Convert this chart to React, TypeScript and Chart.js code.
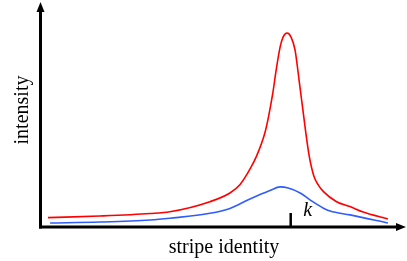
import React, { useEffect, useRef } from "react";
import { Chart, registerables } from "chart.js";

Chart.register(...registerables);

// stripe identity (0..100) and intensity (0..100)
const redStripe = [1.9, 16.2, 30.0, 35.4, 46.4, 51.9, 54.7, 57.4, 59.3, 61.5, 62.5, 63.7, 64.6, 65.7, 66.5, 67.6, 68.7, 69.8, 70.9, 71.6, 72.3, 72.8, 73.7, 75.0, 76.2, 77.6, 81.2, 84.9, 88.5, 95.3];
const redIntensity = [4.2, 4.9, 6.0, 6.8, 11.3, 15.2, 19.0, 25.8, 32.0, 42.0, 49.2, 60.0, 70.0, 80.4, 84.8, 86.6, 84.8, 79.0, 65.6, 56.7, 47.8, 41.5, 31.5, 22.5, 18.7, 15.8, 11.3, 9.1, 6.7, 3.6];

const blueStripe = [2.5, 16.2, 30.0, 35.4, 46.4, 51.9, 57.4, 62.9, 65.7, 67.9, 71.2, 73.9, 77.6, 79.4, 84.9, 95.3];
const blueIntensity = [1.8, 2.2, 3.1, 3.9, 6.1, 8.3, 12.5, 16.3, 17.9, 17.4, 15.2, 12.1, 8.4, 7.1, 5.4, 1.8];

const kStripe = 68.6;
const xTitle = "stripe identity";
const yTitle = "intensity";
const kLabel = "k";

const toPoints = (xs: number[], ys: number[]) => xs.map((x, i) => ({ x, y: ys[i] }));

export default function App() {
  const ref = useRef<HTMLCanvasElement>(null);
  useEffect(() => {
    document.body.style.margin = "0";
    const canvas = ref.current!;
    const decor = {
      id: "decor",
      afterDraw(chart: any) {
        const ctx = chart.ctx as CanvasRenderingContext2D;
        const { left, right, top, bottom } = chart.chartArea;
        const xs = chart.scales.x;
        ctx.save();
        ctx.strokeStyle = "#000";
        ctx.fillStyle = "#000";
        ctx.lineWidth = 3;
        const ax = left - 0.5;
        const ay = bottom;
        // y axis
        ctx.beginPath();
        ctx.moveTo(ax, ay + 1.5);
        ctx.lineTo(ax, top + 8);
        ctx.stroke();
        ctx.beginPath();
        ctx.moveTo(ax, top - 1);
        ctx.lineTo(ax - 4, top + 9);
        ctx.lineTo(ax + 4, top + 9);
        ctx.closePath();
        ctx.fill();
        // x axis
        ctx.beginPath();
        ctx.moveTo(ax - 1.5, ay);
        ctx.lineTo(right - 6, ay);
        ctx.stroke();
        ctx.beginPath();
        ctx.moveTo(right + 1, ay);
        ctx.lineTo(right - 9, ay - 4);
        ctx.lineTo(right - 9, ay + 4);
        ctx.closePath();
        ctx.fill();
        // k tick
        const kx = xs.getPixelForValue(kStripe);
        ctx.lineWidth = 2.5;
        ctx.beginPath();
        ctx.moveTo(kx, ay);
        ctx.lineTo(kx, ay - 14);
        ctx.stroke();
        ctx.font = "italic 20px 'Liberation Serif'";
        ctx.textAlign = "center";
        ctx.textBaseline = "alphabetic";
        ctx.fillText(kLabel, kx + 17, ay - 11);
        // titles
        ctx.font = "20px 'Liberation Serif'";
        ctx.fillText(xTitle, 224, 253);
        ctx.translate(28, 110);
        ctx.rotate(-Math.PI / 2);
        ctx.fillText(yTitle, 0, 0);
        ctx.restore();
      },
    };
    const chart = new Chart(canvas, {
      type: "line",
      data: {
        datasets: [
          {
            data: toPoints(redStripe, redIntensity),
            borderColor: "#ff0000",
            borderWidth: 1.6,
            pointRadius: 0,
            cubicInterpolationMode: "monotone",
            fill: false,
          },
          {
            data: toPoints(blueStripe, blueIntensity),
            borderColor: "#2f5cff",
            borderWidth: 1.6,
            pointRadius: 0,
            cubicInterpolationMode: "monotone",
            fill: false,
          },
        ],
      },
      options: {
        responsive: false,
        animation: false,
        layout: { padding: { left: 41, right: 2, top: 3, bottom: 34 } },
        scales: {
          x: { type: "linear", min: 0, max: 100, display: false },
          y: { type: "linear", min: 0, max: 100, display: false },
        },
        plugins: { legend: { display: false }, tooltip: { enabled: false } },
      },
      plugins: [decor],
    });
    return () => chart.destroy();
  }, []);
  return (
    <div style={{ position: "fixed", left: 0, top: 0, width: 407, height: 261, background: "#fff" }}>
      <canvas ref={ref} width={407} height={261} style={{ width: 407, height: 261 }} />
    </div>
  );
}
